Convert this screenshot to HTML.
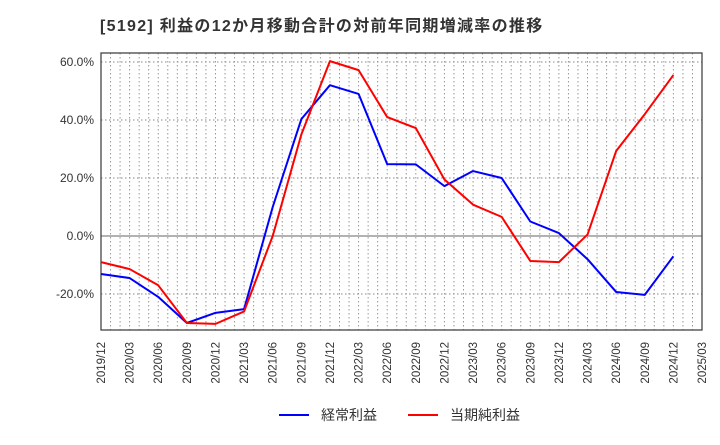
<!DOCTYPE html>
<html><head><meta charset="utf-8"><style>
body{margin:0;background:#fff;}
svg text{font-family:"Liberation Sans","Noto Sans CJK JP",sans-serif;}
</style></head><body>
<svg id="chart" width="720" height="440" xmlns="http://www.w3.org/2000/svg">
<text x="100" y="31" font-size="16" font-weight="bold" fill="#333" letter-spacing="1.3">[5192]  利益の12か月移動合計の対前年同期増減率の推移</text>
<g id="grid"></g>
<g id="axes"></g>
<g id="series"></g>
<g>
<line x1="279" y1="415" x2="309" y2="415" stroke="#0000ff" stroke-width="2"/>
<text x="321" y="420" font-size="14" fill="#333">経常利益</text>
<line x1="408" y1="415" x2="438" y2="415" stroke="#ff0000" stroke-width="2"/>
<text x="450" y="420" font-size="14" fill="#333">当期純利益</text>
</g>
</svg>
<script>
const categories=["2019/12","2020/03","2020/06","2020/09","2020/12","2021/03","2021/06","2021/09","2021/12","2022/03","2022/06","2022/09","2022/12","2023/03","2023/06","2023/09","2023/12","2024/03","2024/06","2024/09","2024/12","2025/03"];
const ordinaryProfit=[-13.1,-14.5,-21,-30,-26.5,-25.2,10,40.3,52,49,24.8,24.7,17.2,22.4,20,5,1,-8,-19.3,-20.3,-7];
const netProfit=[-9,-11.4,-17,-30,-30.3,-26,0,35,60.3,57.2,41,37.2,19.5,10.8,6.6,-8.6,-9,0.5,29.3,42,55.5];
const yTicks=[-20,0,20,40,60];
const yTickLabels=["-20.0%","0.0%","20.0%","40.0%","60.0%"];
const L=101,R=702,T=53,B=330;
const xs=i=>L+i*(R-L)/(categories.length-1);
const ys=v=>236-v*2.9;
const NS="http://www.w3.org/2000/svg";
function mk(p,tag,attrs){const e=document.createElementNS(NS,tag);for(const k in attrs)e.setAttribute(k,attrs[k]);p.appendChild(e);return e;}
const grid=document.getElementById('grid'),axes=document.getElementById('axes'),ser=document.getElementById('series');
const nMonths=(categories.length-1)*3;
for(let m=1;m<nMonths;m++){const x=L+m*(R-L)/nMonths;
const l=mk(grid,'line',{x1:x,y1:T,x2:x,y2:B,stroke:'#999','stroke-dasharray':'1.5,2.5','stroke-width':1});

}
yTicks.forEach((v,i)=>{const y=ys(v);
const l=mk(grid,'line',{x1:L,y1:y,x2:R,y2:y,stroke:v===0?'#666':'#888','stroke-dasharray':v===0?'none':'1.5,2.5','stroke-width':1});


const t=mk(axes,'text',{x:L-7,y:y+4,'font-size':12,fill:'#333','text-anchor':'end'});t.textContent=yTickLabels[i];

});
categories.forEach((c,i)=>{const x=xs(i);
const t=mk(axes,'text',{transform:`translate(${x+4},342) rotate(-90)`,'font-size':11.5,fill:'#333','text-anchor':'end'});t.textContent=c;

});
const fr=mk(axes,'rect',{x:L,y:T,width:R-L,height:B-T,fill:'none',stroke:'#444','stroke-width':1.3});


function line(data,color,name){const p=mk(ser,'polyline',{points:data.map((v,i)=>xs(i)+','+ys(v)).join(' '),fill:'none',stroke:color,'stroke-width':2,'stroke-linejoin':'round'});

}
line(ordinaryProfit,'#0000ff','ordinary-profit-line');
line(netProfit,'#ff0000','net-profit-line');
</script>
</body></html>
